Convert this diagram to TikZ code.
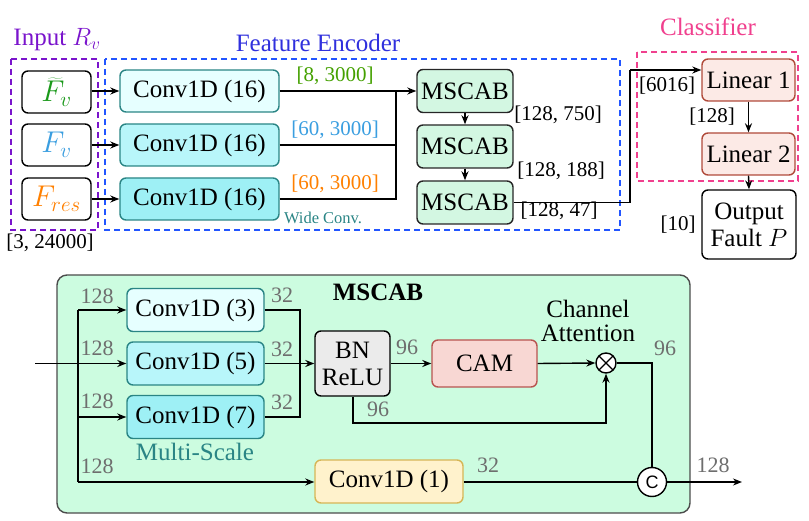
\RequirePackage{fix-cm}
\documentclass[tikz,border=0pt]{standalone}
\usepackage{fontspec}
\setmainfont{Liberation Serif}
\newfontfamily\arialf{Liberation Sans}
\usetikzlibrary{arrows.meta,calc}
\definecolor{cPurple}{HTML}{7A14CC}
\definecolor{cBlueD}{HTML}{2255FF}
\definecolor{cBlueT}{HTML}{3030DD}
\definecolor{cPink}{HTML}{F0408E}
\definecolor{cGreen}{HTML}{1A991A}
\definecolor{cGreenL}{HTML}{44A000}
\definecolor{cLBlue}{HTML}{3A9EE0}
\definecolor{cOrange}{HTML}{FF8000}
\definecolor{cvA}{HTML}{E6FFFF}
\definecolor{cvB}{HTML}{B8F6FA}
\definecolor{cvC}{HTML}{9EF0F5}
\definecolor{cTeal}{HTML}{2A8585}
\definecolor{mscFill}{HTML}{D3F7E2}
\definecolor{bigFill}{HTML}{CCFCE0}
\definecolor{linFill}{HTML}{FCEAE6}
\definecolor{linDraw}{HTML}{B04A3A}
\definecolor{camFill}{HTML}{F8D7D3}
\definecolor{camDraw}{HTML}{B85450}
\definecolor{bnFill}{HTML}{EBEBEB}
\definecolor{k1Fill}{HTML}{FFF2CC}
\definecolor{k1Draw}{HTML}{D6B656}
\definecolor{gLab}{HTML}{6E6E6E}
\begin{document}
\begin{tikzpicture}[x=1pt,y=-1pt,
  box/.style={draw,rounded corners=6pt,line width=1.4pt,inner sep=0pt,align=center,font=\fontsize{25}{27}\selectfont},
  conv/.style={box,draw=cTeal,minimum width=159pt,minimum height=42pt},
  inbox/.style={box,draw=black,fill=white,minimum width=69pt,minimum height=42pt,font=\fontsize{30}{32}\selectfont},
  msc/.style={box,draw=black!85,fill=mscFill,minimum width=96pt,minimum height=43pt},
  lin/.style={box,draw=linDraw,fill=linFill,minimum width=93pt,minimum height=42pt},
  kconv/.style={box,draw=cTeal,minimum width=137pt,minimum height=43pt},
  arr/.style={-{Stealth[length=9pt,width=7pt]},line width=1.4pt},
  ln/.style={line width=1.4pt},
  lab/.style={font=\fontsize{21}{24}\selectfont},
  glab/.style={font=\fontsize{22}{24}\selectfont,text=gLab},
  ttl/.style={font=\fontsize{25}{28}\selectfont}
]
\useasboundingbox (0,0) rectangle (809,521);

% ---------- top dashed frames ----------
\draw[cPurple,line width=1.3pt,dash pattern=on 6pt off 4pt] (11,59) rectangle (98,230);
\draw[cBlueD,line width=1.3pt,dash pattern=on 6pt off 4pt] (105,59) rectangle (620,230);
\draw[cPink,line width=1.3pt,dash pattern=on 6pt off 4pt] (637,52) rectangle (798,181);

\node[ttl,text=cPurple] (tIn) at (57,40) {Input $R_v$};
\node[ttl,text=cBlueT] (tFe) at (318,43) {Feature Encoder};
\node[ttl,text=cPink] (tCl) at (708,27) {Classifier};

% ---------- inputs ----------
\node[inbox] (iA) at (56.5,92) {\textcolor{cGreen}{$\widetilde{F}_v$}};
\node[inbox] (iB) at (56.5,145) {\textcolor{cLBlue}{$F_v$}};
\node[inbox] (iC) at (56.5,199) {\textcolor{cOrange}{$F_{res}$}};

\node[conv,fill=cvA] (cA) at (199.5,91) {Conv1D (16)};
\node[conv,fill=cvB] (cB) at (199.5,145) {Conv1D (16)};
\node[conv,fill=cvC] (cC) at (199.5,199) {Conv1D (16)};

\draw[arr] (iA.east |- cA.west) -- (cA.west);
\draw[arr] (iB.east) -- (cB.west);
\draw[arr] (iC.east) -- (cC.west);

\node[msc] (m1) at (465,91) {MSCAB};
\node[msc] (m2) at (465,146.5) {MSCAB};
\node[msc] (m3) at (465,202.5) {MSCAB};

\coordinate (j) at (396,91);
\draw[arr] (cA.east) -- (m1.west);
\draw[ln] (cB.east) -| (j);
\draw[ln] (cC.east) -| (j);
\draw[arr] (m1.south) -- (m2.north);
\draw[arr] (m2.south) -- (m3.north);

\node[lab,text=cGreenL] (l1) at (335,76) {[8, 3000]};
\node[lab,text=cLBlue] (l2) at (335,130) {[60, 3000]};
\node[lab,text=cOrange] (l3) at (335,184) {[60, 3000]};
\node[font=\fontsize{16.5}{18}\selectfont,text=cTeal] (wc) at (323,218) {Wide Conv.};
\node[lab] (l4) at (558,115) {[128, 750]};
\node[lab] (l5) at (561,171) {[128, 188]};
\node[lab] (l6) at (559,211) {[128, 47]};
\node[lab] (l0) at (50,243) {[3, 24000]};

% ---------- classifier ----------
\node[lin] (L1) at (748.5,80) {Linear 1};
\node[lin] (L2) at (748.5,154) {Linear 2};
\node[box,draw=black,fill=white,minimum width=94pt,minimum height=69pt] (out) at (749,224.5) {Output\\Fault $P$};

\coordinate (k) at (630,70);
\draw[ln] (m3.east) -| (k);
\draw[arr] (k) -- (k -| L1.west);
\draw[arr] (L1.south) -- (L2.north);
\draw[arr] (L2.south) -- (out.north);

\node[lab] (l7) at (667,86) {[6016]};
\node[lab] (l8) at (712,117) {[128]};
\node[lab] (l9) at (678,225) {[10]};

% ---------- MSCAB detail ----------
\draw[draw=black!70,fill=bigFill,line width=1.4pt,rounded corners=10pt] (57,275) rectangle (690,513);
\node[font=\bfseries\fontsize{25}{28}\selectfont] (tM) at (378,292) {MSCAB};

\node[kconv,fill=cvA] (k3) at (195.5,310) {Conv1D (3)};
\node[kconv,fill=cvB] (k5) at (195.5,363.5) {Conv1D (5)};
\node[kconv,fill=cvC] (k7) at (195.5,417) {Conv1D (7)};
\node[font=\fontsize{25}{28}\selectfont,text=cTeal] (ms) at (195,452) {Multi-Scale};

\node[box,draw=black,fill=bnFill,minimum width=75pt,minimum height=65pt] (bn) at (352.5,363.5) {BN\\ReLU};
\node[box,draw=camDraw,fill=camFill,minimum width=105pt,minimum height=47pt] (cam) at (484.5,363.5) {CAM};
\node[draw=black,fill=white,circle,line width=1.4pt,minimum size=20pt,inner sep=0pt] (mul) at (606,363) {};
\draw[line width=1.4pt] ($(mul.center)+(-7,-7)$) -- ($(mul.center)+(7,7)$);
\draw[line width=1.4pt] ($(mul.center)+(-7,7)$) -- ($(mul.center)+(7,-7)$);
\node[draw=black,fill=white,circle,line width=1.4pt,minimum size=29pt,inner sep=0pt,font=\arialf\fontsize{18}{20}\selectfont] (cat) at (652,482) {C};
\node[box,draw=k1Draw,fill=k1Fill,minimum width=148pt,minimum height=43pt] (k1) at (389,481.5) {Conv1D (1)};

\node[font=\fontsize{25}{24}\selectfont,align=center] (ca) at (588,321) {Channel\\Attention};

\coordinate (in) at (35,363.5);
\coordinate (s3) at (78,310);
\coordinate (s7) at (78,417);
\coordinate (s1) at (78,482);
\draw[arr] (in) -- (k5.west);
\draw[ln] (s3) -- (s1);
\draw[arr] (s3) -- (k3.west);
\draw[arr] (s7) -- (k7.west);
\draw[arr] (s1) -- (k1.west |- s1);

\coordinate (jr) at (300,363.5);
\draw[ln] (k3.east) -| (jr);
\draw[ln] (k7.east) -| (jr);
\draw[arr] (k5.east) -- (bn.west);
\draw[arr] (bn.east) -- (cam.west);
\draw[arr] (cam.east) -- (mul.west);
\coordinate (bb) at (353,423);
\draw[arr] (bn.south -| bb) -- (bb) -| (mul.south);
\draw[ln] (mul.east) -| (cat.north);
\draw[ln] (k1.east |- cat.west) -- (cat.west);
\coordinate (oend) at (742,482);
\draw[arr] (cat.east) -- (oend);

\node[glab] (g1) at (97,296) {128};
\node[glab] (g2) at (97,348) {128};
\node[glab] (g3) at (97,401) {128};
\node[glab] (g4) at (97,466) {128};
\node[glab] (g5) at (282,295) {32};
\node[glab] (g6) at (282,349) {32};
\node[glab] (g7) at (282,402) {32};
\node[glab] (g8) at (407,347) {96};
\node[glab] (g9) at (378,409) {96};
\node[glab] (g10) at (665,348) {96};
\node[glab] (g11) at (488,465) {32};
\node[glab] (g12) at (713,465) {128};
\end{tikzpicture}
\end{document}
